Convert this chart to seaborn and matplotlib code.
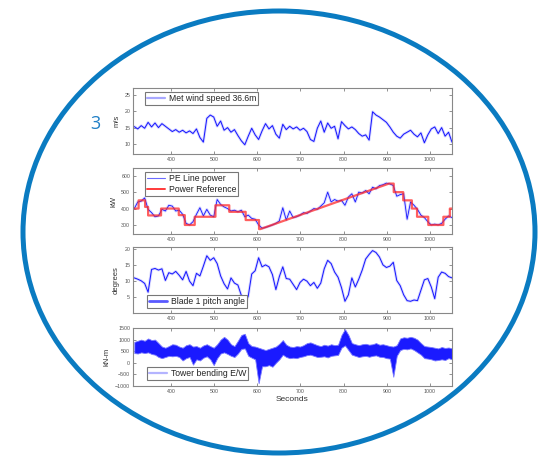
import numpy as np
import matplotlib
matplotlib.use('Agg')
import matplotlib.pyplot as plt
from matplotlib.patches import Ellipse
from matplotlib.lines import Line2D
import seaborn as sns

sns.set_style('ticks')
plt.rcParams['font.family'] = ['Liberation Sans', 'DejaVu Sans']

# time axis (s), one sample every 8 s
seconds = np.arange(315, 1052, 8)

# met wind speed 36.6 m (m/s)
wind = [15.3, 14.6, 15.6, 14.8, 16.6, 15.2, 16.4, 15.0, 16.2, 15.4,
        14.6, 13.8, 14.4, 13.6, 14.2, 13.4, 14.0, 13.2, 14.6, 12.0,
        10.6, 17.8, 18.8, 18.2, 15.4, 17.0, 14.2, 15.0, 13.6, 14.4,
        12.6, 11.0, 9.8, 12.4, 14.8, 12.8, 11.4, 14.0, 16.2, 14.6,
        15.6, 13.0, 11.8, 16.0, 14.4, 15.4, 14.6, 15.2, 14.2, 14.8,
        13.8, 11.4, 10.8, 14.8, 17.0, 13.6, 16.4, 14.8, 15.4, 11.6,
        16.8, 15.6, 14.6, 15.2, 14.4, 13.2, 12.4, 12.8, 11.2, 19.8,
        18.8, 18.2, 17.4, 16.6, 15.2, 13.6, 12.4, 11.8, 13.0, 13.6,
        14.2, 13.0, 12.2, 13.4, 10.4, 12.8, 14.6, 15.2, 13.2, 15.0,
        12.4, 13.6, 10.6]

# PE line power (kW)
power = [400, 440, 445, 465, 395, 375, 350, 355, 395, 385,
         420, 415, 385, 390, 365, 310, 300, 320, 365, 405,
         355, 395, 360, 350, 455, 425, 410, 400, 385, 390,
         380, 390, 350, 360, 340, 335, 300, 280, 285, 292,
         300, 310, 325, 405, 330, 385, 345, 350, 360, 375,
         370, 385, 400, 395, 415, 435, 500, 440, 455, 445,
         450, 420, 470, 490, 440, 500, 495, 510, 490, 530,
         520, 540, 545, 555, 550, 540, 475, 485, 490, 335,
         440, 420, 395, 360, 345, 320, 300, 305, 300, 310,
         335, 355, 345]

# power reference (kW), step changes plus the ramp
ref_time = [312, 325, 325, 340, 340, 347, 347, 377, 377, 418, 418, 432, 432,
            455, 455, 503, 503, 535, 535, 573, 573, 604, 604, 607, 905, 916,
            916, 938, 938, 958, 958, 970, 970, 996, 996, 1031, 1031, 1046,
            1046, 1051]
ref_kw = [400, 400, 450, 450, 410, 410, 358, 358, 400, 400, 360, 360, 300,
          300, 350, 350, 420, 420, 380, 380, 330, 330, 275, 275, 552, 552,
          500, 500, 450, 450, 400, 400, 350, 350, 300, 300, 350, 350,
          400, 400]

# blade 1 pitch angle (degrees)
pitch = [11.0, 10.6, 10.1, 9.3, 6.6, 13.6, 13.9, 13.4, 13.8, 10.2,
         12.6, 12.2, 13.0, 11.8, 10.4, 13.0, 10.0, 8.6, 12.4, 11.6,
         14.6, 17.8, 16.4, 17.2, 15.4, 11.6, 9.2, 7.6, 11.0, 9.4,
         8.8, 5.6, 2.8, 5.4, 12.2, 13.2, 17.2, 14.4, 15.0, 14.4,
         12.0, 7.4, 11.4, 14.4, 10.8, 10.6, 9.0, 7.4, 9.6, 10.6,
         10.0, 8.6, 9.6, 7.8, 9.4, 13.8, 16.4, 15.4, 12.8, 11.2,
         8.0, 3.8, 5.8, 11.0, 8.2, 10.6, 13.4, 16.8, 18.2, 19.4,
         18.8, 17.4, 15.0, 14.2, 14.6, 15.8, 10.2, 8.6, 5.8, 4.0,
         3.8, 4.2, 4.0, 7.2, 10.4, 10.8, 8.2, 4.6, 11.2, 12.8,
         12.4, 11.4, 11.0]

# tower bending E/W (kN-m), upper and lower edge of the band
tower_hi = [900, 950, 1000, 950, 1050, 980, 1000, 850, 700, 650,
            720, 800, 780, 700, 650, 760, 800, 700, 720, 650,
            750, 800, 720, 650, 800, 1000, 1120, 1000, 800, 720,
            950, 1200, 1250, 850, 720, 700, 650, 600, 550, 600,
            650, 700, 820, 980, 780, 700, 680, 720, 700, 760,
            850, 880, 820, 760, 720, 780, 740, 800, 760, 780,
            1200, 1450, 1200, 850, 800, 760, 800, 820, 780, 800,
            850, 780, 800, 760, 720, 700, 760, 1050, 1100, 1080,
            1120, 1080, 1000, 850, 720, 700, 680, 650, 620, 680,
            640, 660, 620]
tower_lo = [420, 400, 450, 420, 450, 380, 350, 250, 200, 250,
            300, 280, 300, 250, 100, 200, 250, -80, 150, 100,
            220, 280, 150, -100, 200, 400, 450, 380, 300, 250,
            400, 600, 620, 300, 220, 150, -880, -150, -150, -100,
            -170, 0, 150, 350, 250, 200, 220, 200, 250, 280,
            330, 350, 300, 250, 260, 280, 230, 300, 320, 340,
            650, 750, 550, 350, 300, 250, 280, 300, 260, 300,
            320, 260, 250, 200, 180, -600, 300, 550, 600, 580,
            620, 550, 450, 350, 200, 180, 150, 100, 120, 150,
            120, 200, 150]

xticks = [400, 500, 600, 700, 800, 900, 1000]

fig = plt.figure(figsize=(5.41, 4.59), dpi=100)

# circle frame and slide number
bg = fig.add_axes([0, 0, 1, 1], zorder=0)
bg.set_xlim(0, 541)
bg.set_ylim(459, 0)
bg.axis('off')
bg.add_patch(Ellipse((279, 232), 512, 442, fill=False, ec='#0a7bc1', lw=3.6))
bg.text(95, 124, '3', color='#1f7fc6', fontsize=13, ha='center', va='center',
        family='Open Sans')

left, width = 133 / 541, 319 / 541
boxes = [(88, 154), (168, 234), (247, 313), (328, 386)]
axes = []
for top, bot in boxes:
    ax = fig.add_axes([left, 1 - bot / 459, width, (bot - top) / 459], zorder=1)
    axes.append(ax)

def trace(ax, y, color='#1414ff', lw=0.7):
    sns.lineplot(x=seconds, y=y, ax=ax, color='#8c8cff', lw=2.0, alpha=0.35,
                 estimator=None, sort=False)
    sns.lineplot(x=seconds, y=y, ax=ax, color=color, lw=lw,
                 estimator=None, sort=False)

ax1, ax2, ax3, ax4 = axes
trace(ax1, wind)
trace(ax2, power, lw=0.6)
sns.lineplot(x=ref_time, y=ref_kw, ax=ax2, color='#ff2a2a', lw=1.6, alpha=0.75,
             estimator=None, sort=False)
trace(ax3, pitch)
ax4.fill_between(seconds, tower_lo, tower_hi, color='#1a1aff', lw=0.6,
                 edgecolor='#7a7aff')

ax1.set_ylim(7, 27)
ax1.set_yticks([10, 15, 20, 25])
ax2.set_ylim(245, 647)
ax2.set_yticks([300, 400, 500, 600])
ax3.set_ylim(0.2, 20.5)
ax3.set_yticks([5, 10, 15, 20])
ax4.set_ylim(-1000, 1500)
ax4.set_yticks([-1000, -500, 0, 500, 1000, 1500])

for ax, lab in zip(axes, ['m/s', 'kW', 'degrees', 'kN-m']):
    ax.set_xlim(312, 1051)
    ax.set_xticks(xticks)
    ax.tick_params(direction='in', length=2, width=0.5, labelsize=3.8,
                   labelcolor='#555555', color='#666666', top=True, right=True,
                   pad=2)
    for s in ax.spines.values():
        s.set_color('#888888')
        s.set_linewidth(0.8)
    ax.set_ylabel(lab, fontsize=5.5, color='#333333', labelpad=3)
    ax.set_xlabel('')
ax4.set_xlabel('Seconds', fontsize=6, color='#333333', labelpad=1.5)

legkw = dict(fontsize=6.2, frameon=True, fancybox=False, framealpha=1,
             edgecolor='#777777', borderpad=0.25, labelspacing=0.2,
             handlelength=2.1, handletextpad=0.4, borderaxespad=0)
l1 = ax1.legend([Line2D([], [], color='#a8a8ff', lw=1.6)],
                ['Met wind speed 36.6m'], loc='upper left',
                bbox_to_anchor=(12 / 319, 1 - 4 / 66), **legkw)
l2 = ax2.legend([Line2D([], [], color='#6a6aff', lw=0.8),
                 Line2D([], [], color='#ff3a3a', lw=1.4)],
                ['PE Line power', 'Power Reference'], loc='upper left',
                bbox_to_anchor=(12 / 319, 1 - 4 / 66), **legkw)
l3 = ax3.legend([Line2D([], [], color='#5a5aff', lw=2.0)],
                ['Blade 1 pitch angle'], loc='lower left',
                bbox_to_anchor=(14 / 319, 5 / 66), **legkw)
l4 = ax4.legend([Line2D([], [], color='#b4b4ff', lw=1.6)],
                ['Tower bending E/W'], loc='lower left',
                bbox_to_anchor=(14 / 319, 6 / 58), **legkw)
for lg in (l1, l2, l3, l4):
    lg.get_frame().set_linewidth(0.8)
    for t in lg.get_texts():
        t.set_color('#222222')

fig.savefig('out.png', dpi=100)
